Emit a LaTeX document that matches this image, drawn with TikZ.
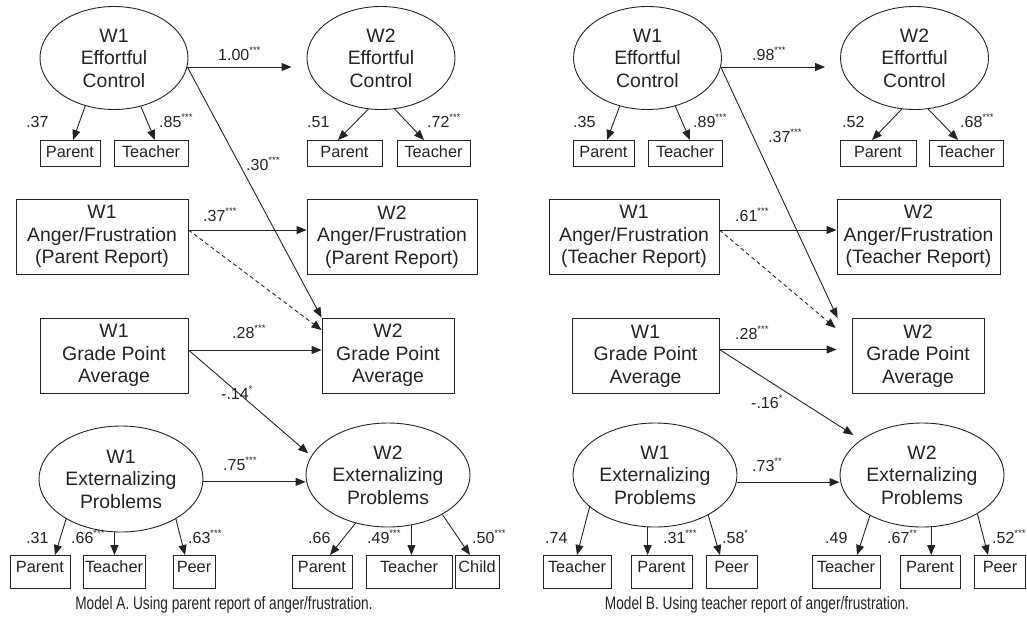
\documentclass[tikz,border=0pt]{standalone}
\usepackage{fontspec}
\setmainfont{Liberation Sans}
\newfontfamily\capfont[FakeStretch=0.76]{Liberation Sans}
\usepackage{xcolor}
\definecolor{inkgray}{HTML}{232323}
\usetikzlibrary{arrows.meta,shapes.geometric}
\newcommand{\sig}[1]{\raisebox{6.8pt}{\fontsize{9.5}{9.5}\selectfont #1}}
\tikzset{
  latent/.style={
    ellipse, draw=inkgray, line width=0.9pt, inner sep=0pt,
    align=center, text=inkgray, font=\fontsize{19.4}{22.5}\selectfont
  },
  observed/.style={
    rectangle, draw=inkgray, line width=0.9pt, inner sep=0pt,
    minimum height=75pt, align=center, text=inkgray,
    font=\fontsize{19.4}{22.5}\selectfont
  },
  indbox/.style={
    rectangle, draw=inkgray, line width=0.9pt, inner sep=0pt, anchor=north,
    text height=17.5pt, text=inkgray, font=\fontsize{16.3}{18}\selectfont
  },
  coef/.style={anchor=base west, inner sep=0pt, text=inkgray, font=\fontsize{16}{18}\selectfont},
  caption/.style={text=inkgray, font=\capfont\fontsize{18}{20}\selectfont},
  arrow/.style={-{Triangle[length=10pt,width=8pt]}, line width=0.9pt, draw=inkgray},
  dasharrow/.style={arrow, dash pattern=on 4pt off 3pt}
}

\begin{document}
\begin{tikzpicture}[x=1pt,y=-1pt]
  \useasboundingbox (0,0) rectangle (1027,632);

  % Model A
  \node[latent, minimum width=148pt, minimum height=103pt] (ecA1) at (114,58) {W1\\Effortful\\Control};
  \node[latent, minimum width=148pt, minimum height=103pt] (ecA2) at (381,58) {W2\\Effortful\\Control};
  \node[observed, minimum width=172pt] (afA1) at (102,236.5) {W1\\Anger/Frustration\\(Parent Report)};
  \node[observed, minimum width=170pt] (afA2) at (392,237) {W2\\Anger/Frustration\\(Parent Report)};
  \node[observed, minimum width=148pt] (gpaA1) at (114,355.5) {W1\\Grade Point\\Average};
  \node[observed, minimum width=132pt] (gpaA2) at (388,355.5) {W2\\Grade Point\\Average};
  \node[latent, minimum width=164pt, minimum height=106pt] (exA1) at (121,479) {W1\\Externalizing\\Problems};
  \node[latent, minimum width=164pt, minimum height=104pt] (exA2) at (388,475) {W2\\Externalizing\\Problems};

  \node[indbox, text depth=8.5pt, minimum width=60pt] (ecA1p) at (70,140) {Parent};
  \node[indbox, text depth=8.5pt, minimum width=74pt] (ecA1t) at (151,140) {Teacher};
  \node[indbox, text depth=8.5pt, minimum width=75pt] (ecA2p) at (344.5,140) {Parent};
  \node[indbox, text depth=8.5pt, minimum width=73pt] (ecA2t) at (433.5,140) {Teacher};
  \node[indbox, text depth=15.5pt, minimum width=60pt] (exA1p) at (40,555) {Parent};
  \node[indbox, text depth=15.5pt, minimum width=62pt] (exA1t) at (114,555) {Teacher};
  \node[indbox, text depth=15.5pt, minimum width=42pt] (exA1r) at (194,555) {Peer};
  \node[indbox, text depth=15.5pt, minimum width=60pt] (exA2p) at (322,555) {Parent};
  \node[indbox, text depth=15.5pt, minimum width=86pt] (exA2t) at (409,555) {Teacher};
  \node[indbox, text depth=15.5pt, minimum width=44pt] (exA2c) at (477,555) {Child};

  \draw[arrow, shorten >=15pt] (ecA1.-7) -- (ecA1.-7 -| ecA2.west);
  \draw[arrow] (ecA1.-7) -- (gpaA2.north west);
  \draw[arrow] ([yshift=6.5pt]afA1.east) -- ([yshift=6.5pt]afA1.east -| afA2.west);
  \draw[dasharrow] ([yshift=6.5pt]afA1.east) -- ([yshift=25.5pt]gpaA2.west);
  \draw[arrow] ([yshift=5.5pt]gpaA1.east) -- ([yshift=5.5pt]gpaA1.east -| gpaA2.west);
  \draw[arrow, shorten >=4pt] ([yshift=5.5pt]gpaA1.east) -- (exA2.166);
  \draw[arrow] (exA1.-2) -- (exA1.-2 -| exA2.west);

  \draw[arrow] (ecA1.-121) -- ([xshift=3pt]ecA1p.north);
  \draw[arrow] (ecA1.-61) -- ([xshift=4pt]ecA1t.north);
  \draw[arrow] (ecA2.-104) -- ([xshift=-6.5pt]ecA2p.north);
  \draw[arrow] (ecA2.-75) -- ([xshift=-9.5pt]ecA2t.north);
  \draw[arrow] (exA1.-144) -- ([xshift=15pt]exA1p.north);
  \draw[arrow] (exA1.-97) -- (exA1.-97 |- exA1t.north);
  \draw[arrow] (exA1.-36) -- ([xshift=-9pt]exA1r.north);
  \draw[arrow] (exA2.-124) -- ([xshift=8pt]exA2p.north);
  \draw[arrow] (exA2.-65) -- (exA2.-65 |- exA2t.north);
  \draw[arrow] (exA2.-36) -- ([xshift=-7pt]exA2c.north);

  \node[coef] (cAec) at (218,60) {1.00\sig{***}};
  \node[coef] (cAecgpa) at (246,170) {.30\sig{***}};
  \node[coef] (cAaf) at (203,221) {.37\sig{***}};
  \node[coef] (cAgpa) at (232,338) {.28\sig{***}};
  \node[coef] (cAgpaex) at (221,399) {-.14\sig{*}};
  \node[coef] (cAex) at (223,470) {.75\sig{***}};
  \node[coef] (cAec1p) at (26,127) {.37};
  \node[coef] (cAec1t) at (159,127) {.85\sig{***}};
  \node[coef] (cAec2p) at (307,127) {.51};
  \node[coef] (cAec2t) at (427,127) {.72\sig{***}};
  \node[coef] (cAex1p) at (26,543) {.31};
  \node[coef] (cAex1t) at (71,543) {.66\sig{***}};
  \node[coef] (cAex1r) at (188,543) {.63\sig{***}};
  \node[coef] (cAex2p) at (308,543) {.66};
  \node[coef] (cAex2t) at (367,543) {.49\sig{***}};
  \node[coef] (cAex2c) at (472,543) {.50\sig{***}};

  % Model B
  \node[latent, minimum width=148pt, minimum height=103pt] (ecB1) at (647.5,58) {W1\\Effortful\\Control};
  \node[latent, minimum width=148pt, minimum height=103pt] (ecB2) at (914.5,58) {W2\\Effortful\\Control};
  \node[observed, minimum width=170pt] (afB1) at (634,236.5) {W1\\Anger/Frustration\\(Teacher Report)};
  \node[observed, minimum width=163pt] (afB2) at (918.5,236.5) {W2\\Anger/Frustration\\(Teacher Report)};
  \node[observed, minimum width=147pt] (gpaB1) at (645.5,356) {W1\\Grade Point\\Average};
  \node[observed, minimum width=132pt] (gpaB2) at (918,356) {W2\\Grade Point\\Average};
  \node[latent, minimum width=164pt, minimum height=104pt] (exB1) at (655,475) {W1\\Externalizing\\Problems};
  \node[latent, minimum width=164pt, minimum height=104pt] (exB2) at (922,475) {W2\\Externalizing\\Problems};

  \node[indbox, text depth=8.5pt, minimum width=61pt] (ecB1p) at (603.5,140) {Parent};
  \node[indbox, text depth=8.5pt, minimum width=74pt] (ecB1t) at (685,140) {Teacher};
  \node[indbox, text depth=8.5pt, minimum width=76pt] (ecB2p) at (878,140) {Parent};
  \node[indbox, text depth=8.5pt, minimum width=74pt] (ecB2t) at (966,140) {Teacher};
  \node[indbox, text depth=15.5pt, minimum width=68pt] (exB1t) at (577,555) {Teacher};
  \node[indbox, text depth=15.5pt, minimum width=61pt] (exB1p) at (661.5,555) {Parent};
  \node[indbox, text depth=15.5pt, minimum width=51pt] (exB1r) at (731.5,555) {Peer};
  \node[indbox, text depth=15.5pt, minimum width=68pt] (exB2t) at (846,555) {Teacher};
  \node[indbox, text depth=15.5pt, minimum width=60pt] (exB2p) at (930,555) {Parent};
  \node[indbox, text depth=15.5pt, minimum width=51pt] (exB2r) at (1000,555) {Peer};

  \draw[arrow, shorten >=15pt] (ecB1.-7) -- (ecB1.-7 -| ecB2.west);
  \draw[arrow] (ecB1.-7) -- ([xshift=-14pt]gpaB2.north west);
  \draw[arrow] ([yshift=6.5pt]afB1.east) -- ([yshift=6.5pt]afB1.east -| afB2.west);
  \draw[dasharrow] ([yshift=6.5pt]afB1.east) -- ([xshift=-16pt,yshift=28pt]gpaB2.west);
  \draw[arrow] ([yshift=6.5pt]gpaB1.east) -- ([xshift=-15pt,yshift=6.5pt]gpaB2.west);
  \draw[arrow, shorten >=9pt] ([yshift=6.5pt]gpaB1.east) -- (exB2.150);
  \draw[arrow] (exB1.-5) -- (exB1.-5 -| exB2.west);

  \draw[arrow] (ecB1.-120) -- ([xshift=3.5pt]ecB1p.north);
  \draw[arrow] (ecB1.-60) -- ([xshift=5pt]ecB1t.north);
  \draw[arrow] (ecB2.-104) -- ([xshift=-6pt]ecB2p.north);
  \draw[arrow] (ecB2.-75) -- ([xshift=-8pt]ecB2t.north);
  \draw[arrow] (exB1.-154) -- (exB1t.north);
  \draw[arrow] (exB1.-98) -- (exB1.-98 |- exB1p.north);
  \draw[arrow] (exB1.-37) -- ([xshift=-11.5pt]exB1r.north);
  \draw[arrow] (exB2.-142) -- ([xshift=11pt]exB2t.north);
  \draw[arrow] (exB2.-80) -- (exB2.-80 |- exB2p.north);
  \draw[arrow] (exB2.-35) -- ([xshift=-12pt]exB2r.north);

  \node[coef] (cBec) at (752,60) {.98\sig{***}};
  \node[coef] (cBecgpa) at (768,142) {.37\sig{***}};
  \node[coef] (cBaf) at (735,221) {.61\sig{***}};
  \node[coef] (cBgpa) at (735,339) {.28\sig{***}};
  \node[coef] (cBgpaex) at (751,408) {-.16\sig{*}};
  \node[coef] (cBex) at (752,471) {.73\sig{**}};
  \node[coef] (cBec1p) at (573,127) {.35};
  \node[coef] (cBec1t) at (693,127) {.89\sig{***}};
  \node[coef] (cBec2p) at (842,127) {.52};
  \node[coef] (cBec2t) at (960,127) {.68\sig{***}};
  \node[coef] (cBex1t) at (545,543) {.74};
  \node[coef] (cBex1p) at (663,543) {.31\sig{***}};
  \node[coef] (cBex1r) at (722,543) {.58\sig{*}};
  \node[coef] (cBex2t) at (825,543) {.49};
  \node[coef] (cBex2p) at (887,543) {.67\sig{**}};
  \node[coef] (cBex2r) at (992,543) {.52\sig{***}};

  \node[caption] (capA) at (224,605) {Model A. Using parent report of anger/frustration.};
  \node[caption] (capB) at (757,605) {Model B. Using teacher report of anger/frustration.};
\end{tikzpicture}
\end{document}
